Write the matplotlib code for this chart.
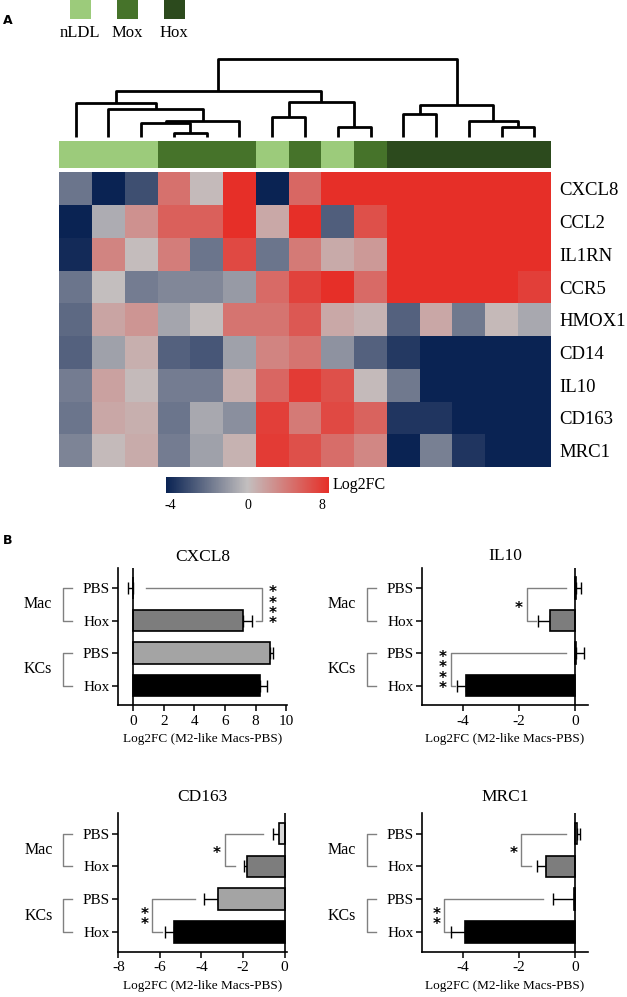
import numpy as np
import matplotlib
matplotlib.use("Agg")
import matplotlib.pyplot as plt
from matplotlib.colors import LinearSegmentedColormap, TwoSlopeNorm, ListedColormap
from matplotlib.colorbar import ColorbarBase
from matplotlib import transforms

plt.rcParams['font.family'] = 'Liberation Serif'
plt.rcParams['axes.unicode_minus'] = False

W, H = 627, 997

# ---- panel A data ----
genes = ["CXCL8", "CCL2", "IL1RN", "CCR5", "HMOX1", "CD14", "IL10", "CD163", "MRC1"]
groups = ["nLDL", "nLDL", "nLDL", "Mox", "Mox", "Mox", "nLDL", "Mox", "nLDL", "Mox",
          "Hox", "Hox", "Hox", "Hox", "Hox"]
group_names = ["nLDL", "Mox", "Hox"]
group_colors = ["#9ccb7b", "#46732a", "#2c4a1d"]
log2fc = [
    [-2.0, -4.5, -3.0, 4.8, 0.3, 9.0, -4.5, 5.3, 9.0, 9.0, 9.0, 9.0, 9.0, 9.0, 9.0],
    [-4.5, -0.5, 2.8, 5.8, 5.8, 9.0, 1.4, 9.0, -2.6, 6.8, 9.0, 9.0, 9.0, 9.0, 9.0],
    [-4.0, 3.6, 0.2, 4.0, -2.0, 7.2, -2.0, 4.2, 1.3, 2.3, 9.0, 9.0, 9.0, 9.0, 9.0],
    [-2.0, 0.0, -1.8, -1.5, -1.5, -1.0, 5.2, 7.6, 9.0, 5.2, 9.0, 9.0, 9.0, 9.0, 7.8],
    [-2.3, 1.6, 2.6, -0.7, 0.1, 4.6, 4.6, 6.3, 1.4, 0.7, -2.5, 1.5, -1.9, 0.4, -0.6],
    [-2.5, -0.8, 1.0, -2.5, -2.8, -0.8, 3.6, 4.6, -1.2, -2.5, -3.6, -4.5, -4.5, -4.5, -4.5],
    [-1.8, 1.8, 0.3, -1.8, -1.8, 1.0, 5.4, 8.0, 6.8, 0.3, -1.9, -4.5, -4.5, -4.5, -4.5],
    [-2.0, 1.5, 1.0, -2.0, -0.6, -1.3, 7.8, 4.2, 7.2, 5.6, -3.7, -3.7, -4.5, -4.5, -4.5],
    [-1.6, 0.3, 1.2, -1.8, -0.8, 0.8, 8.0, 6.8, 5.0, 3.4, -4.5, -1.7, -3.7, -4.5, -4.5],
]
# column dendrogram: (child a, child b, height); leaves 0..14, new nodes from 15
linkage = [
    (3, 4, 1.2), (2, 15, 4.2), (16, 5, 5.0), (1, 17, 8.5), (0, 18, 10.2),
    (6, 7, 6.2), (8, 9, 3.2), (20, 21, 10.5), (19, 22, 14.0),
    (13, 14, 3.2), (12, 24, 4.9), (10, 11, 6.9), (26, 25, 9.7), (23, 27, 23.4),
]

# ---- panel B data ----
rows = ["PBS", "Hox", "PBS", "Hox"]
cell_types = ["Mac", "KCs"]
bar_colors = ["#d6d6d6", "#7d7d7d", "#a4a4a4", "#000000"]
cxcl8_mean = [-0.02, 7.2, 8.95, 8.3]
cxcl8_sem = [0.33, 0.53, 0.17, 0.42]
il10_mean = [0.02, -0.89, 0.02, -3.9]
il10_sem = [0.2, 0.42, 0.28, 0.32]
cd163_mean = [-0.27, -1.79, -3.22, -5.3]
cd163_sem = [0.29, 0.17, 0.68, 0.45]
mrc1_mean = [0.06, -1.05, -0.04, -3.92]
mrc1_sem = [0.12, 0.32, 0.74, 0.5]
# significance brackets: (top row, bottom row, x start at top row, x of vertical,
#                         x end at bottom row, number of stars, star x)
cxcl8_sig = [(0, 1, 0.8, 8.4, 8.0, 4, 9.1)]
il10_sig = [(0, 1, -0.33, -1.73, -1.39, 1, -2.0), (2, 3, -0.33, -4.43, -4.3, 4, -4.72)]
cd163_sig = [(0, 1, -1.04, -2.88, -2.39, 1, -3.25), (2, 3, -4.33, -6.37, -5.9, 2, -6.75)]
mrc1_sig = [(0, 1, -0.33, -1.93, -1.57, 1, -2.2), (2, 3, -1.15, -4.67, -4.46, 2, -4.94)]


def box(l, t, r, b):
    return [l / W, 1 - b / H, (r - l) / W, (b - t) / H]


fig = plt.figure(figsize=(W / 100, H / 100), dpi=100)

fig.text(3 / W, 1 - 20 / H, "A", fontsize=9, fontweight='bold', family='DejaVu Sans', va='center')
fig.text(3 / W, 1 - 541 / H, "B", fontsize=9, fontweight='bold', family='DejaVu Sans', va='center')

# legend squares
leg_x = [70, 117, 164]
for name, col, lx in zip(group_names, group_colors, leg_x):
    lax = fig.add_axes(box(lx, 0, lx + 21, 19))
    lax.set_facecolor(col)
    lax.set_xticks([]); lax.set_yticks([])
    for s in lax.spines.values():
        s.set_visible(False)
    fig.text((lx + 10) / W, 1 - 33 / H, name, fontsize=12, ha='center', va='center')

# dendrogram
dax = fig.add_axes(box(59.3, 59.3, 550.7, 137.3))
pos = {i: (i + 0.5, 0.0) for i in range(len(groups))}
for k, (a, b, h) in enumerate(linkage):
    xa, ha = pos[a]
    xb, hb = pos[b]
    dax.plot([xa, xa, xb, xb], [ha, h, h, hb], color='black', lw=2, clip_on=False,
             solid_capstyle='butt')
    pos[len(groups) + k] = ((xa + xb) / 2, h)
dax.set_xlim(0, len(groups))
dax.set_ylim(0, 23.4)
dax.axis('off')

# group colour strip
sax = fig.add_axes(box(59.3, 140.5, 550.7, 168))
gidx = [group_names.index(g) for g in groups]
sax.pcolormesh(np.array([gidx]), cmap=ListedColormap(group_colors), vmin=-0.5, vmax=2.5)
sax.axis('off')

# heatmap
cmap = LinearSegmentedColormap.from_list("bgr", ["#0a2353", "#c3bfbf", "#e62f28"])
norm = TwoSlopeNorm(vmin=-4.2, vcenter=0, vmax=8.8)
hax = fig.add_axes(box(59.3, 172.5, 550.7, 467))
hax.pcolormesh(np.array(log2fc), cmap=cmap, norm=norm)
hax.set_ylim(len(genes), 0)
hax.set_xticks([])
hax.set_yticks(np.arange(len(genes)) + 0.5)
hax.set_yticklabels(genes, fontsize=13.5)
hax.yaxis.tick_right()
hax.tick_params(axis='y', length=0, pad=6)
for s in hax.spines.values():
    s.set_visible(False)

# colorbar
cax = fig.add_axes(box(166, 477, 329, 493))
cb = ColorbarBase(cax, cmap=cmap, norm=norm, orientation='horizontal', ticks=[-4, 0, 8])
cb.outline.set_visible(False)
cax.tick_params(length=0, labelsize=10, pad=4)
cax.set_xticklabels(["-4", "0", "8"])
fig.text(333 / W, 1 - 485 / H, "Log2FC", fontsize=11.5, va='center')


def bar_panel(rect, title, means, sems, xlim, xticks, sig, title_pad):
    ax = fig.add_axes(rect)
    y = np.arange(len(rows))
    ax.barh(y, means, height=0.66, color=bar_colors, edgecolor='black', linewidth=1.2, zorder=3)
    for yi, m, s in zip(y, means, sems):
        if m >= 0:
            xe = [[0], [s]]
        else:
            xe = [[s], [0]]
        ax.errorbar([m], [yi], xerr=xe, fmt='none', ecolor='black', elinewidth=1,
                    capsize=4, capthick=1, zorder=2)
    ax.axvline(0, color='black', lw=1.2, zorder=4)
    for r0, r1, x0, xv, x1, n, sx in sig:
        ax.plot([x0, xv, xv, x1], [r0, r0, r1, r1], color='#808080', lw=1, zorder=1)
        mid = (r0 + r1) / 2
        ax.text(sx, mid + 0.12, "\n".join(["*"] * n), fontsize=11, fontweight='bold',
                family='DejaVu Sans', ha='center', va='center', linespacing=0.62)
    ax.set_xlim(*xlim)
    ax.set_ylim(3.6, -0.62)
    ax.set_xticks(xticks)
    ax.set_xticklabels([str(t) for t in xticks])
    ax.set_yticks(y)
    ax.set_yticklabels(rows)
    ax.tick_params(axis='both', labelsize=11, length=4, width=1.1, pad=2)
    ax.tick_params(axis='x', pad=3)
    for s in ['top', 'right']:
        ax.spines[s].set_visible(False)
    for s in ['left', 'bottom']:
        ax.spines[s].set_linewidth(1.2)
    ax.set_title(title, fontsize=12.5, pad=title_pad)
    ax.set_xlabel("Log2FC (M2-like Macs-PBS)", fontsize=9.5, labelpad=4)
    # cell type group brackets left of the axis
    wpx = rect[2] * W
    tr = transforms.blended_transform_factory(ax.transAxes, ax.transData)
    for i, ct in enumerate(cell_types):
        r0, r1 = 2 * i, 2 * i + 1
        ax.plot([-46 / wpx, -55 / wpx, -55 / wpx, -46 / wpx], [r0, r0, r1, r1], color='#808080',
                lw=1, transform=tr, clip_on=False)
        ax.text(-80 / wpx, (r0 + r1) / 2, ct, fontsize=11.5, ha='center', va='center', transform=tr)
    return ax


bar_panel(box(118, 568, 287, 705), "CXCL8", cxcl8_mean, cxcl8_sem, (-1, 10.05),
          [0, 2, 4, 6, 8, 10], cxcl8_sig, 5)
bar_panel(box(421.7, 568, 588.3, 705), "IL10", il10_mean, il10_sem, (-5.47, 0.47),
          [-4, -2, 0], il10_sig, 6)
bar_panel(box(118.3, 813.3, 286.7, 951.7), "CD163", cd163_mean, cd163_sem, (-8, 0.1),
          [-8, -6, -4, -2, 0], cd163_sig, 8.5)
bar_panel(box(421.7, 813.3, 588.3, 951.7), "MRC1", mrc1_mean, mrc1_sem, (-5.47, 0.47),
          [-4, -2, 0], mrc1_sig, 8.5)

fig.savefig("out.png", dpi=100)
